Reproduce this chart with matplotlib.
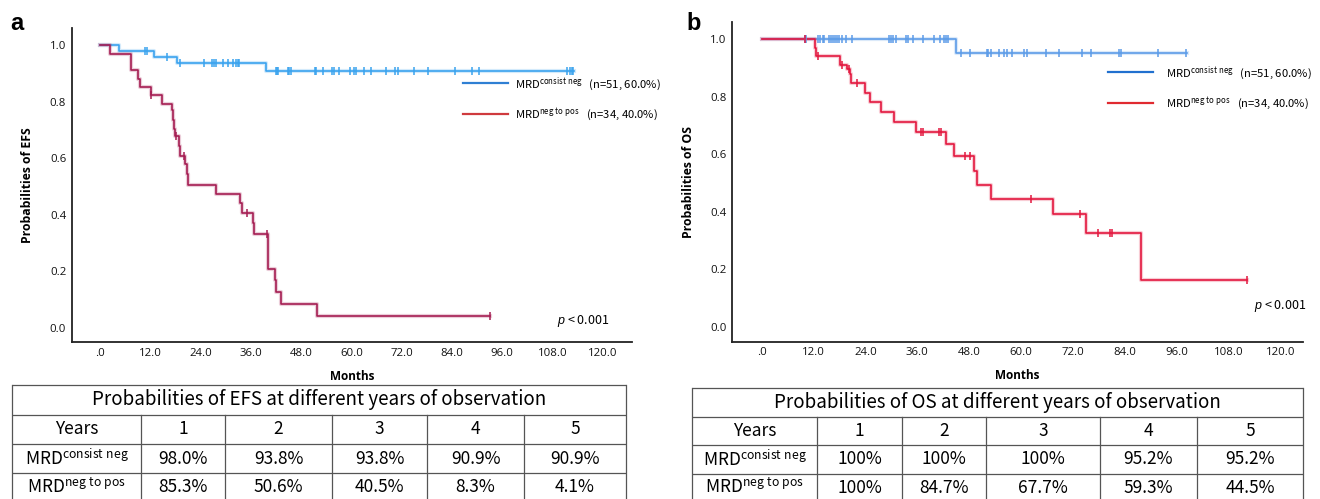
import numpy as np
import matplotlib
matplotlib.use('Agg')
import matplotlib.pyplot as plt
import matplotlib.patheffects as pe
from matplotlib import font_manager as fm
from matplotlib.lines import Line2D

# ---------------- data ----------------
x_ticks = [0, 12, 24, 36, 48, 60, 72, 84, 96, 108, 120]
x_tick_labels = ['.0', '12.0', '24.0', '36.0', '48.0', '60.0', '72.0', '84.0', '96.0', '108.0', '120.0']
y_ticks = [0.0, 0.2, 0.4, 0.6, 0.8, 1.0]
y_tick_labels = ['0.0', '0.2', '0.4', '0.6', '0.8', '1.0']

# Panel a: EFS
efs_consist_time = [0, 4.6, 12.9, 18.3, 39.6]
efs_consist_surv = [1.0, 0.980, 0.959, 0.938, 0.909]
efs_consist_end = 113.1
efs_consist_cens = [10.7, 11.3, 15.9, 19.1, 24.8, 26.7, 27.1, 27.8, 29.4, 30.5, 31.8, 32.4,
                    32.9, 33.1, 42.0, 42.3, 42.5, 44.8, 45.2, 45.6, 51.4, 51.6, 53.3, 55.4,
                    55.9, 57.1, 59.7, 60.7, 61.1, 63.0, 64.6, 68.3, 70.4, 71.2, 75.0, 78.4,
                    84.8, 88.8, 90.5, 111.6, 112.1, 112.6, 112.9]

efs_negpos_time = [0, 2.5, 7.3, 9.0, 9.6, 12.2, 14.9, 17.1, 17.4, 17.7, 17.9, 18.8, 19.1,
                   20.4, 20.7, 20.9, 27.6, 33.5, 34.0, 36.5, 36.7, 40.0, 41.7, 42.0, 43.2, 51.9]
efs_negpos_surv = [1.0, 0.971, 0.912, 0.882, 0.853, 0.824, 0.794, 0.770, 0.737, 0.705, 0.678,
                   0.642, 0.610, 0.581, 0.543, 0.506, 0.475, 0.442, 0.405, 0.372, 0.333, 0.209,
                   0.168, 0.126, 0.083, 0.041]
efs_negpos_end = 93.0
efs_negpos_cens = [12.2, 18.1, 20.0, 35.0, 39.8, 93.0]

# Panel b: OS
os_consist_time = [0, 45.0]
os_consist_surv = [1.0, 0.952]
os_consist_end = 98.4
os_consist_cens = [10.1, 10.3, 13.0, 13.4, 14.2, 14.4, 15.5, 16.0, 16.5, 16.9, 17.5, 17.9, 18.5,
                   19.4, 20.9, 29.5, 29.8, 30.3, 31.0, 33.4, 33.9, 35.1, 37.3, 39.9, 41.3, 42.2,
                   42.7, 43.1, 46.0, 48.1, 52.1, 52.4, 53.0, 55.0, 56.0, 56.8, 58.0, 60.6, 61.3,
                   65.8, 68.8, 74.2, 76.1, 82.7, 83.2, 91.6, 98.2]

os_negpos_time = [0, 12.2, 12.6, 18.1, 19.8, 20.3, 20.7, 24.0, 25.0, 27.7, 30.5, 35.7, 42.6,
                  44.4, 49.1, 49.9, 53.0, 67.3, 75.0, 87.7]
os_negpos_surv = [1.0, 0.970, 0.941, 0.912, 0.896, 0.878, 0.847, 0.814, 0.780, 0.746, 0.712,
                  0.677, 0.636, 0.593, 0.543, 0.494, 0.445, 0.391, 0.326, 0.163]
os_negpos_end = 112.3
os_negpos_cens = [10.1, 13.1, 18.6, 20.1, 22.1, 36.9, 37.2, 40.9, 41.5, 47.0, 48.1, 62.2,
                  73.7, 77.9, 80.5, 81.0, 112.3]

# Tables
table_years = ['1', '2', '3', '4', '5']
efs_tab_consist = ['98.0%', '93.8%', '93.8%', '90.9%', '90.9%']
efs_tab_negpos = ['85.3%', '50.6%', '40.5%', '8.3%', '4.1%']
os_tab_consist = ['100%', '100%', '100%', '95.2%', '95.2%']
os_tab_negpos = ['100%', '84.7%', '67.7%', '59.3%', '44.5%']

legend_consist = 'MRD$^{\\mathregular{consist\\ neg}}$   (n=51, 60.0%)'
legend_negpos = 'MRD$^{\\mathregular{neg\\ to\\ pos}}$   (n=34, 40.0%)'
row_consist = 'MRD$^{\\mathregular{consist\\ neg}}$'
row_negpos = 'MRD$^{\\mathregular{neg\\ to\\ pos}}$'

# ---------------- fonts ----------------
avail = {f.name for f in fm.fontManager.ttflist}
NARROW = 'Liberation Sans'
for cand in ['Noto Sans CJK SC', 'Noto Sans CJK JP', 'Noto Sans CJK TC', 'Noto Sans CJK KR',
             'Noto Sans']:
    if cand in avail:
        NARROW = cand
        break
AX_FONT = 'Open Sans' if 'Open Sans' in avail else 'DejaVu Sans'
plt.rcParams['font.family'] = [NARROW, 'DejaVu Sans']
plt.rcParams['mathtext.fontset'] = 'custom'
plt.rcParams['mathtext.rm'] = NARROW
plt.rcParams['mathtext.it'] = 'Liberation Sans:italic'

W, H = 1320, 499
fig = plt.figure(figsize=(W / 100, H / 100), dpi=100)


def fx(px):
    return px / W


def fy(py):
    return 1 - py / H


def km(ax, t, s, end, cens, color):
    t = np.asarray(t, float)
    s = np.asarray(s, float)
    tt = np.append(t, end)
    ss = np.append(s, s[-1])
    ax.step(tt, ss, where='post', color=color, lw=1.2, zorder=3,
            path_effects=[pe.Stroke(linewidth=3.0, foreground=color, alpha=0.22), pe.Normal()])
    c = np.asarray(cens, float)
    cy = s[np.searchsorted(t, c, side='right') - 1]
    ax.plot(c, cy, linestyle='none', marker='|', markersize=6, markeredgewidth=1.1,
            color=color, zorder=4)


def setup_axes(ax, ylabel):
    ax.set_xlim(-6.75, 127.0)
    ax.set_ylim(-0.051, 1.062)
    for sp in ['top', 'right']:
        ax.spines[sp].set_visible(False)
    for sp in ['left', 'bottom']:
        ax.spines[sp].set_linewidth(1.3)
        ax.spines[sp].set_color('#222222')
    ax.set_xticks(x_ticks)
    ax.set_xticklabels(x_tick_labels, fontsize=8.2, family=AX_FONT, color='#111111')
    ax.set_yticks(y_ticks)
    ax.set_yticklabels(y_tick_labels, fontsize=8.2, family=AX_FONT, color='#111111')
    ax.tick_params(length=0, pad=4)
    ax.set_ylabel(ylabel, fontsize=8.8, family=AX_FONT, fontweight='bold', labelpad=11)
    ax.set_xlabel('Months', fontsize=8.5, family=AX_FONT, fontweight='bold', labelpad=8)
    ax.patch.set_alpha(0)


# ---------------- panel a ----------------
axa = fig.add_axes([fx(71.7), fy(342), fx(632 - 71.7), (342 - 28) / H])
setup_axes(axa, 'Probabilities of EFS')
km(axa, efs_consist_time, efs_consist_surv, efs_consist_end, efs_consist_cens, '#3aa3ee')
km(axa, efs_negpos_time, efs_negpos_surv, efs_negpos_end, efs_negpos_cens, '#a51d52')
axa.text(fx(583), fy(321), '$\\mathit{p}$ < 0.001', transform=fig.transFigure, ha='center',
         va='center', fontsize=9)

ha = [Line2D([], [], color='#2f7fd3', lw=1.6), Line2D([], [], color='#cf3a3e', lw=1.6)]
fig.legend(ha, [legend_consist, legend_negpos], loc='upper left',
           bbox_to_anchor=(fx(463), fy(75)), frameon=False, fontsize=8.1,
           handlelength=4.0, handletextpad=0.65, labelspacing=1.15, borderpad=0,
           borderaxespad=0)

# ---------------- panel b ----------------
axb = fig.add_axes([fx(732), fy(341.7), fx(1302.7 - 732), (341.7 - 21.7) / H])
setup_axes(axb, 'Probabilities of OS')
axb.set_xlim(-6.9, 125.2)
axb.set_ylim(-0.052, 1.061)
km(axb, os_consist_time, os_consist_surv, os_consist_end, os_consist_cens, '#5c9be8')
km(axb, os_negpos_time, os_negpos_surv, os_negpos_end, os_negpos_cens, '#e3173f')
axb.text(fx(1280), fy(306.5), '$\\mathit{p}$ < 0.001', transform=fig.transFigure, ha='center',
         va='center', fontsize=9)

hb = [Line2D([], [], color='#2170cf', lw=1.6), Line2D([], [], color='#e02a30', lw=1.6)]
fig.legend(hb, [legend_consist, legend_negpos], loc='upper left',
           bbox_to_anchor=(fx(1108), fy(64)), frameon=False, fontsize=8.1,
           handlelength=4.0, handletextpad=1.2, labelspacing=1.15, borderpad=0,
           borderaxespad=0)

# panel letters
fig.text(fx(17), fy(23), 'a', fontsize=17, fontweight='bold', family='Liberation Sans',
         ha='center', va='center')
fig.text(fx(694), fy(23), 'b', fontsize=17, fontweight='bold', family='Liberation Sans',
         ha='center', va='center')

# ---------------- tables ----------------
ov = fig.add_axes([0, 0, 1, 1], zorder=-1)
ov.set_xlim(0, W)
ov.set_ylim(H, 0)
ov.axis('off')


def draw_table(title, xs, ys, consist_vals, negpos_vals):
    lc = '#555555'
    lw = 0.9
    left, right = xs[0], xs[-1]
    for y in ys:
        ov.plot([left, right], [y, y], color=lc, lw=lw, solid_capstyle='butt')
    ov.plot([left, left], [ys[0], ys[-1]], color=lc, lw=lw)
    ov.plot([right, right], [ys[0], ys[-1]], color=lc, lw=lw)
    for x in xs[1:-1]:
        ov.plot([x, x], [ys[1], ys[-1]], color=lc, lw=lw)
    ov.text((left + right) / 2, (ys[0] + ys[1]) / 2, title, ha='center', va='center',
            fontsize=13.5, fontweight='normal')
    rows = [['Years'] + table_years, [row_consist] + consist_vals, [row_negpos] + negpos_vals]
    for r, row in enumerate(rows):
        yc = (ys[r + 1] + ys[r + 2]) / 2
        for c, txt in enumerate(row):
            xc = (xs[c] + xs[c + 1]) / 2
            ov.text(xc, yc, txt, ha='center', va='center', fontsize=12.5)


draw_table('Probabilities of EFS at different years of observation',
           [12, 141, 225, 332, 427, 524, 626], [385, 415, 444, 473, 502],
           efs_tab_consist, efs_tab_negpos)
draw_table('Probabilities of OS at different years of observation',
           [692, 817, 902, 986, 1100, 1197, 1303], [388, 417, 445, 473.5, 502],
           os_tab_consist, os_tab_negpos)

fig.savefig('out.png', dpi=100)
